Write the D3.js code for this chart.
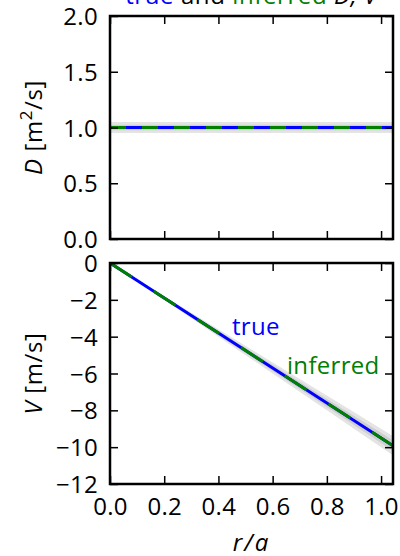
<!DOCTYPE html>
<html>
<head>
<meta charset="utf-8">
<script src="https://cdn.jsdelivr.net/npm/d3@7"></script>
<style>
  html, body { margin: 0; padding: 0; background: #fff; }
  svg text { font-family: "Open Sans", "Noto Sans", sans-serif; letter-spacing: 0.3px; }
</style>
</head>
<body>
<svg id="fig" width="400" height="556"></svg>
<script>
// Radial grid (normalised radius r/a)
const rGrid = [0, 0.2, 0.4, 0.6, 0.8, 1.0, 1.05];

// Diffusion coefficient D [m^2/s]
const dTrue     = [1.0, 1.0, 1.0, 1.0, 1.0, 1.0, 1.0];
const dInferred = [1.0, 1.0, 1.0, 1.0, 1.0, 1.0, 1.0];
const dOuterLo  = [0.95, 0.95, 0.95, 0.95, 0.95, 0.95, 0.95];
const dOuterHi  = [1.05, 1.05, 1.05, 1.05, 1.05, 1.05, 1.05];
const dInnerLo  = [0.975, 0.975, 0.975, 0.975, 0.975, 0.975, 0.975];
const dInnerHi  = [1.025, 1.025, 1.025, 1.025, 1.025, 1.025, 1.025];

// Convective velocity V [m/s]
const vTrue     = [0, -1.9, -3.8, -5.7, -7.6, -9.5, -9.98];
const vInferred = [0, -1.9, -3.8, -5.7, -7.6, -9.5, -9.98];
const vOuterLo  = [0, -2.0, -4.0, -6.0, -8.0, -10.0, -10.5];
const vOuterHi  = [0, -1.8, -3.6, -5.4, -7.2, -9.0, -9.46];
const vInnerLo  = [0, -1.96, -3.92, -5.87, -7.82, -9.78, -10.27];
const vInnerHi  = [0, -1.84, -3.68, -5.53, -7.38, -9.22, -9.69];

// Tick labels
const xTicks  = [0, 0.2, 0.4, 0.6, 0.8, 1.0];
const dTicks  = [0, 0.5, 1.0, 1.5, 2.0];
const vTicks  = [0, -2, -4, -6, -8, -10, -12];

const svg = d3.select("#fig");
const left = 110, right = 393;
const x = d3.scaleLinear().domain([0, 1.044]).range([left, right]);
const yD = d3.scaleLinear().domain([0, 2]).range([239, 16]);
const yV = d3.scaleLinear().domain([-12, 0]).range([484, 263]);

const fontSize = 24;
const blue = "#0000ff", green = "#008000";
const fmt1 = d3.format(".1f");
const fmtInt = v => (v < 0 ? "\u2212" + Math.abs(v) : String(v));

function panel(y, ticksY, fmtY, opts) {
  const g = svg.append("g");
  const clipId = "clip" + opts.id;
  svg.append("clipPath").attr("id", clipId)
    .append("rect").attr("x", left).attr("y", y.range()[1])
    .attr("width", right - left).attr("height", y.range()[0] - y.range()[1]);
  const plot = g.append("g").attr("clip-path", `url(#${clipId})`);

  const idx = d3.range(rGrid.length);
  const area = (lo, hi) => d3.area()
    .x(i => x(rGrid[i])).y0(i => y(lo[i])).y1(i => y(hi[i]));
  const line = vals => d3.line().x(i => x(rGrid[i])).y(i => y(vals[i]));

  plot.append("path").attr("d", area(opts.outerLo, opts.outerHi)(idx))
    .attr("fill", "#e4e4e4");
  plot.append("path").attr("d", area(opts.innerLo, opts.innerHi)(idx))
    .attr("fill", "#cfcfcf");
  plot.append("path").attr("d", line(opts.truth)(idx))
    .attr("fill", "none").attr("stroke", blue).attr("stroke-width", 3);
  plot.append("path").attr("d", line(opts.inferred)(idx))
    .attr("fill", "none").attr("stroke", green).attr("stroke-width", 3)
    .attr("stroke-dasharray", opts.dash);

  // inward ticks on all four sides
  const tl = 8;
  const axB = d3.axisBottom(x).tickValues(xTicks).tickSizeInner(-tl).tickSizeOuter(0)
    .tickFormat(opts.xLabels ? fmt1 : "");
  const axT = d3.axisTop(x).tickValues(xTicks).tickSizeInner(-tl).tickSizeOuter(0).tickFormat("");
  const axL = d3.axisLeft(y).tickValues(ticksY).tickSizeInner(-tl).tickSizeOuter(0).tickFormat(fmtY);
  const axR = d3.axisRight(y).tickValues(ticksY).tickSizeInner(-tl).tickSizeOuter(0).tickFormat("");

  const styleAxis = sel => {
    sel.select(".domain").remove();
    sel.selectAll(".tick line").attr("stroke", "#000").attr("stroke-width", 1.5);
    sel.selectAll(".tick text").attr("font-size", fontSize).attr("fill", "#000")
      .attr("font-family", "'Open Sans', sans-serif");
  };
  g.append("g").attr("transform", `translate(0,${y.range()[0]})`).call(axB)
    .call(styleAxis).selectAll(".tick text").attr("dy", "0.9em").attr("y", 9);
  g.append("g").attr("transform", `translate(0,${y.range()[1]})`).call(axT).call(styleAxis);
  g.append("g").attr("transform", `translate(${left},0)`).call(axL)
    .call(styleAxis).selectAll(".tick text").attr("x", -12).attr("dy", "0.36em");
  g.append("g").attr("transform", `translate(${right},0)`).call(axR).call(styleAxis);

  // frame
  g.append("rect").attr("x", left).attr("y", y.range()[1])
    .attr("width", right - left).attr("height", y.range()[0] - y.range()[1])
    .attr("fill", "none").attr("stroke", "#000").attr("stroke-width", 2.5);
  return g;
}

panel(yD, dTicks, fmt1, {
  id: "D", truth: dTrue, inferred: dInferred,
  outerLo: dOuterLo, outerHi: dOuterHi, innerLo: dInnerLo, innerHi: dInnerHi,
  dash: "16,16", xLabels: false
});
panel(yV, vTicks, fmtInt, {
  id: "V", truth: vTrue, inferred: vInferred,
  outerLo: vOuterLo, outerHi: vOuterHi, innerLo: vInnerLo, innerHi: vInnerHi,
  dash: "26,26", xLabels: true
});

// in-plot series labels
svg.append("text").attr("x", x(0.45)).attr("y", yV(-3.9))
  .attr("font-size", fontSize).attr("fill", blue).text("true");
svg.append("text").attr("x", x(0.653)).attr("y", yV(-6.0))
  .attr("font-size", fontSize).attr("fill", green).text("inferred");

// title
const title = svg.append("text").attr("x", (left + right) / 2).attr("y", 4)
  .attr("text-anchor", "middle").attr("font-size", fontSize)
  .style("letter-spacing", "0.6px");
title.append("tspan").attr("fill", blue).text("true");
title.append("tspan").attr("fill", "#000").text(" and ");
title.append("tspan").attr("fill", green).text("inferred");
title.append("tspan").attr("fill", "#000").attr("font-style", "italic").text(" D, V");

// y-axis labels
const yLab1 = svg.append("text")
  .attr("transform", `translate(42,${(yD.range()[0] + yD.range()[1]) / 2}) rotate(-90)`)
  .attr("text-anchor", "middle").attr("font-size", fontSize)
  .style("letter-spacing", "0.6px");
yLab1.append("tspan").attr("font-style", "italic").text("D");
yLab1.append("tspan").text(" [m");
yLab1.append("tspan").attr("font-size", 17).attr("dy", -10).text("2");
yLab1.append("tspan").attr("dy", 10).text("/s]");

const yLab2 = svg.append("text")
  .attr("transform", `translate(42,${(yV.range()[0] + yV.range()[1]) / 2}) rotate(-90)`)
  .attr("text-anchor", "middle").attr("font-size", fontSize)
  .style("letter-spacing", "0.6px");
yLab2.append("tspan").attr("font-style", "italic").text("V");
yLab2.append("tspan").text(" [m/s]");

// x-axis label
svg.append("text").attr("x", (left + right) / 2).attr("y", 551)
  .attr("text-anchor", "middle").attr("font-size", fontSize)
  .attr("font-style", "italic").style("letter-spacing", "2px").text("r/a");
</script>
</body>
</html>
